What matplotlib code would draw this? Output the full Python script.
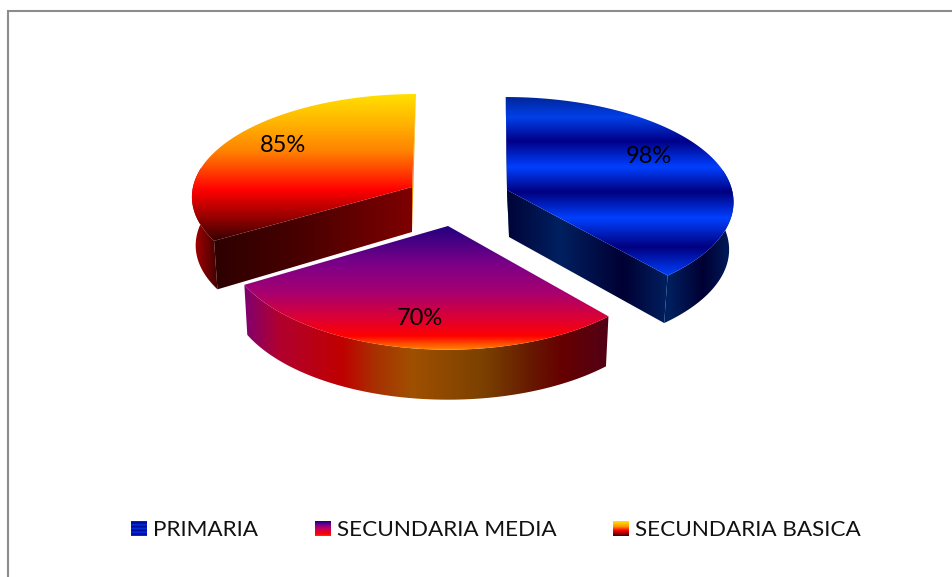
import numpy as np
import matplotlib
matplotlib.use("Agg")
import matplotlib.pyplot as plt
from matplotlib.colors import LinearSegmentedColormap
from matplotlib.patches import Polygon

categories = ["PRIMARIA", "SECUNDARIA MEDIA", "SECUNDARIA BASICA"]
values = [98, 70, 85]
value_labels = ["98%", "70%", "85%"]

W, H = 952, 577
fig = plt.figure(figsize=(W / 100, H / 100), dpi=100, facecolor="white")

# the slice angles come from matplotlib's own pie layout
helper = fig.add_axes([0, 0, 0.1, 0.1])
wedges, _ = helper.pie(values, startangle=90, counterclock=False)
angles = [(w.theta1, w.theta2) for w in wedges]
helper.remove()

ax = fig.add_axes([0, 0, 1, 1])
ax.set_xlim(0, W)
ax.set_ylim(H, 0)
ax.axis("off")
ax.set_autoscale_on(False)

plt.rcParams["font.family"] = ["Lato", "DejaVu Sans"]
SHRINK, XC = 0.985, 440


def project(theta, s):
    t = np.radians(theta)
    u, v = np.cos(t), np.sin(t)
    w = 1 + s["k"] * v
    return np.column_stack([s["apex"][0] + s["rx"] * u / w + s["skew"] * v,
                            s["apex"][1] - s["ry"] * v / w])


def lower(p, depth):
    q = np.array(p, dtype=float)
    q[:, 0] = XC + (q[:, 0] - XC) * SHRINK
    q[:, 1] += depth
    return q


def grad_fill(points, stops, axis):
    """Fill a polygon with a linear gradient along screen x or y."""
    points = np.asarray(points)
    poly = Polygon(points, closed=True, facecolor="none", edgecolor="none")
    ax.add_patch(poly)
    pos = np.array([s[0] for s in stops], dtype=float)
    lo, hi = pos[0], pos[-1]
    cmap = LinearSegmentedColormap.from_list(
        "g", [((p - lo) / (hi - lo), s[1]) for p, s in zip(pos, stops)], N=512
    )
    ramp = np.linspace(0, 1, 512)
    if axis == "y":
        im = ax.imshow(ramp[:, None], cmap=cmap, aspect="auto", extent=(0, W, hi, lo),
                       origin="upper", interpolation="bilinear", zorder=poly.get_zorder())
    else:
        im = ax.imshow(ramp[None, :], cmap=cmap, aspect="auto", extent=(lo, hi, H, 0),
                       origin="upper", interpolation="bilinear", zorder=poly.get_zorder())
    im.set_clip_path(poly)
    ax.set_xlim(0, W)
    ax.set_ylim(H, 0)
    return im


blue_top = [(90, "#00208a"), (97, "#00259a"), (117, "#0040e8"), (141, "#000088"), (167, "#0040ff"),
            (192, "#000080"), (218, "#0040ff"), (247, "#000080"), (276, "#0040ff"), (290, "#0040ff")]
blue_side = [(500, "#000033"), (560, "#002060"), (623, "#000033"), (668, "#002060"),
             (703, "#000033"), (735, "#002060")]
purple_top = [(220, "#14007e"), (263, "#7a0088"), (293, "#a80070"), (320, "#e00030"),
              (336, "#ff0000"), (350, "#ff8a00"), (356, "#ff8a00")]
purple_side = [(240, "#7a0078"), (278, "#b00030"), (342, "#c00000"), (375, "#a83000"),
               (412, "#a05000"), (485, "#7a4000"), (530, "#661a00"), (562, "#660000"),
               (612, "#500018")]
orange_top = [(90, "#ffe600"), (125, "#ffb000"), (152, "#ff8000"), (190, "#ff0000"),
              (215, "#a00000"), (242, "#300000"), (255, "#300000")]
orange_radial = [(205, "#2a0000"), (300, "#480000"), (416, "#800000")]
orange_outer = [(188, "#c00000"), (218, "#400000")]

slices = [
    dict(apex=(507, 190), rx=225, ry=103.2, k=0.11, skew=-1.3, depth=47.5, top=blue_top,
         outer=blue_side, radial=blue_side, tip_idx=-1, back_idx=0, apex_low=(509, 237),
         back_grad=[(90, "#001a70"), (240, "#000040")], label=(649, 156.5)),
    dict(apex=(448, 226), rx=220, ry=106, k=0.143, skew=0, depth=50, top=purple_top,
         outer=purple_side, radial=None, tip_idx=None, back_idx=None, apex_low=None,
         back_grad=None, label=(420, 318.5)),
    dict(apex=(412, 187), rx=219, ry=100.4, k=0.08, skew=4, depth=48.5, top=orange_top,
         outer=orange_outer, radial=orange_radial, tip_idx=0, back_idx=-1, apex_low=(412, 232),
         back_grad=[(90, "#ffd800"), (235, "#e06000")], label=(283, 145.5)),
]

for (t1, t2), s, txt in zip(angles, slices, value_labels):
    thetas = np.linspace(t2, t1, 240)
    arc = project(thetas, s)
    apex = np.array([s["apex"]], dtype=float)
    # outer curved wall: only the part that can show below the top face
    front = np.sin(np.radians(thetas)) < 0.2
    wall_arc = arc[front]
    grad_fill(np.vstack([wall_arc, lower(wall_arc, s["depth"])[::-1]]), s["outer"], "x")
    if s["radial"] is not None:
        tip = arc[[s["tip_idx"]]]
        back_pt = arc[[s["back_idx"]]]
        a_low = np.array([s["apex_low"]], dtype=float)
        # thin sliver of the back wall
        grad_fill(np.vstack([back_pt, apex, a_low]), s["back_grad"], "y")
        # visible straight wall, from the apex to the front corner of the slice
        grad_fill(np.vstack([apex, tip, lower(tip, s["depth"]), a_low]), s["radial"], "x")
    # top face
    grad_fill(np.vstack([apex, arc]), s["top"], "y")
    ax.text(s["label"][0], s["label"][1], txt, ha="center", va="center",
            fontsize=17, color="black", zorder=5)

# legend
legend_x = [131, 315, 613]
legend_grads = [
    [(0, "#0030c0"), (1, "#000090"), (2, "#0038e0"), (3, "#000090"), (4, "#0038e0"),
     (5, "#000090"), (6, "#0038e0"), (7, "#000090"), (8, "#0038e0")],
    [(0, "#14007e"), (2, "#7a0088"), (4, "#c00060"), (7, "#ff0000"), (8, "#ff3000")],
    [(0, "#ffe600"), (3, "#ff9000"), (5, "#ff0000"), (8, "#400000")],
]
for x0, name, grad in zip(legend_x, categories, legend_grads):
    y0, y1 = 521, 536
    ax.imshow(np.linspace(0, 1, 64)[:, None],
              cmap=LinearSegmentedColormap.from_list(
                  "l", [(p / 8, c) for p, c in grad]),
              aspect="auto", extent=(x0, x0 + 16, y1, y0), origin="upper")
    ax.set_xlim(0, W)
    ax.set_ylim(H, 0)
    ax.text(x0 + 22, 529.5, name, ha="left", va="center", fontsize=16.2, color="#111111", zorder=5)

# chart frame (only top and left edges fall inside the crop)
ax.plot([8, 8, W], [H, 11, 11], color="#8c8c8c", lw=1.5, solid_joinstyle="miter", clip_on=False)

fig.savefig("out.png", dpi=100, facecolor="white")
